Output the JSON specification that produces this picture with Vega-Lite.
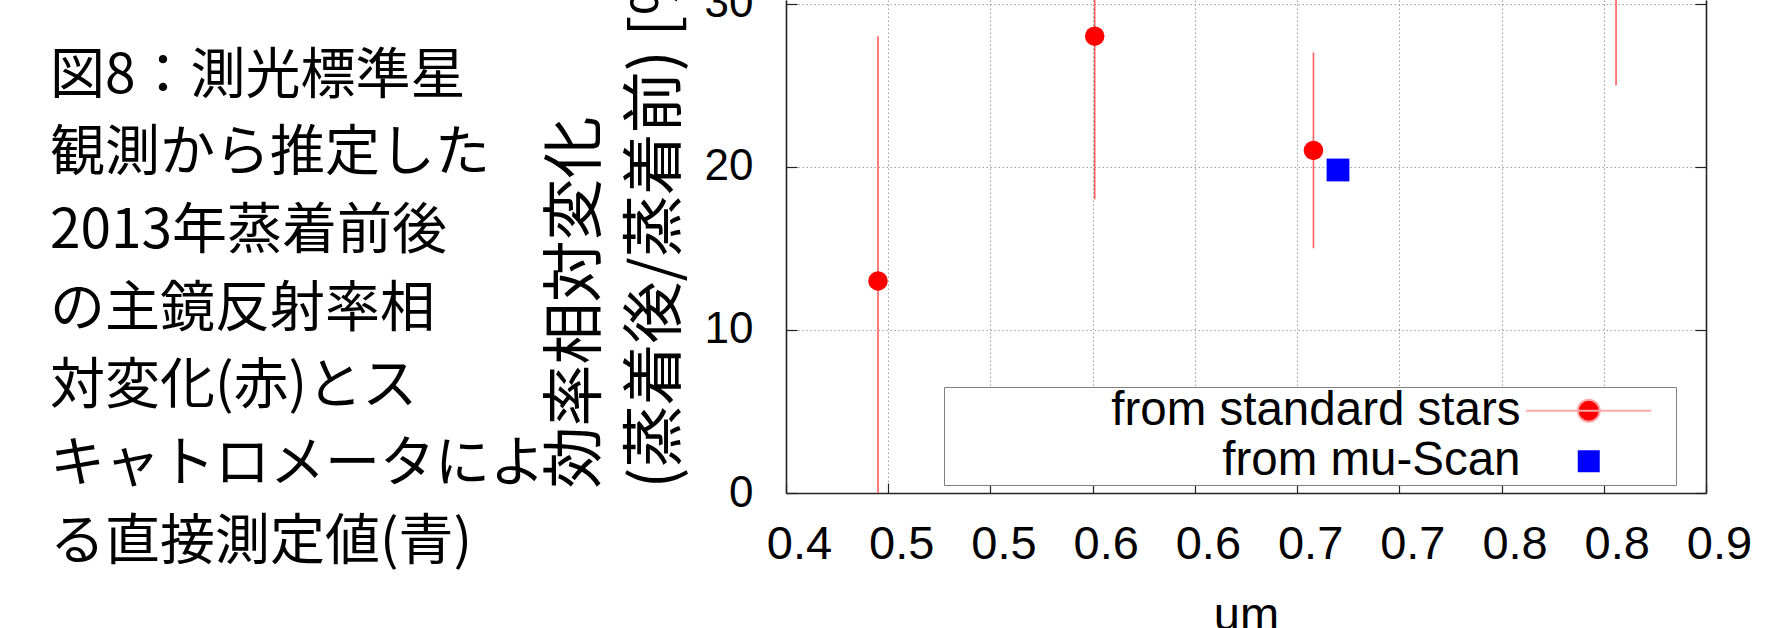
{
  "$schema": "https://vega.github.io/schema/vega-lite/v6.json",
  "width": 920,
  "height": 493,
  "autosize": {"type": "none"},
  "padding": {"left": 786, "top": 0, "right": 81, "bottom": 135},
  "background": "white",
  "config": {"view": {"stroke": null}, "font": "Liberation Sans"},
  "title": {
    "text": ["図8：測光標準星", "観測から推定した", "2013年蒸着前後", "の主鏡反射率相", "対変化(赤)とス", "キャトロメータによ", "る直接測定値(青)"],
    "anchor": "start",
    "frame": "group",
    "orient": "top",
    "font": "Noto Sans CJK JP",
    "fontSize": 55,
    "fontWeight": "normal",
    "color": "black",
    "lineHeight": 77.7,
    "baseline": "top",
    "dx": -736,
    "dy": 634,
    "offset": 0
  },
  "data": {
    "values": [
      {"um": 0.445, "val": 13, "lo": -2, "hi": 28, "series": "from standard stars"},
      {"um": 0.551, "val": 28, "lo": 18, "hi": 38, "series": "from standard stars"},
      {"um": 0.658, "val": 21, "lo": 15, "hi": 27, "series": "from standard stars"},
      {"um": 0.806, "val": 33, "lo": 25, "hi": 41, "series": "from standard stars"},
      {"um": 0.67, "val": 19.8, "series": "from mu-Scan"}
    ]
  },
  "resolve": {"scale": {"y": "independent"}},
  "layer": [
    {
      "transform": [{"filter": "isValid(datum.lo)"}],
      "mark": {"type": "rule", "clip": true, "color": "#ff5c5c", "strokeWidth": 1.6},
      "encoding": {
        "x": {
          "field": "um", "type": "quantitative",
          "scale": {"domain": [0.4, 0.85], "nice": false, "zero": false},
          "axis": {
            "orient": "bottom",
            "values": [0.4, 0.45, 0.5, 0.55, 0.6, 0.65, 0.7, 0.75, 0.8, 0.85],
            "labelExpr": "format(datum.value + 0.001, '.1f')",
            "labelFont": "Liberation Sans", "labelFontSize": 47, "labelColor": "black",
            "labelOffset": 13, "labelPadding": 75, "labelBaseline": "alphabetic",
            "labelFlush": false, "labelOverlap": false, "labelBound": false,
            "tickSize": -10, "tickColor": "#222222", "tickWidth": 1.2,
            "domainColor": "#222222", "domainWidth": 1.6,
            "grid": true, "gridColor": "#a0a0a0", "gridDash": [1.5, 2.5], "gridWidth": 1,
            "title": "um", "titleFont": "Liberation Sans", "titleFontSize": 47, "titleFontWeight": "normal",
            "titleColor": "black", "titleX": 460, "titleY": 136, "titleBaseline": "alphabetic", "titleAlign": "center"
          }
        },
        "y": {
          "field": "lo", "type": "quantitative",
          "scale": {"domain": [0, 30.22], "nice": false, "zero": false},
          "axis": {
            "orient": "left",
            "values": [0, 10, 20, 30],
            "labelFont": "Liberation Sans", "labelFontSize": 44, "labelColor": "black",
            "labelPadding": 44, "labelFlush": false, "labelOverlap": false, "labelBound": false,
            "tickSize": -11, "tickColor": "#222222", "tickWidth": 1.2,
            "domainColor": "#222222", "domainWidth": 1.6,
            "grid": true, "gridColor": "#a0a0a0", "gridDash": [1.5, 2.5], "gridWidth": 1,
            "title": ["効率相対変化", "(蒸着後/蒸着前) [%]"],
            "titleFont": "Noto Sans CJK JP", "titleFontSize": 62, "titleFontWeight": "normal",
            "titleColor": "black", "titleLineHeight": 80, "titleAngle": 270,
            "titleAlign": "left", "titleBaseline": "middle", "titleX": -210, "titleY": 488
          }
        },
        "y2": {"field": "hi"}
      }
    },
    {
      "transform": [{"filter": "datum.series === 'from standard stars'"}],
      "mark": {"type": "circle", "opacity": 1, "clip": true, "size": 380},
      "encoding": {
        "x": {"field": "um", "type": "quantitative"},
        "y": {
          "field": "val", "type": "quantitative",
          "scale": {"domain": [0, 30.22], "nice": false, "zero": false},
          "axis": {
            "orient": "right", "values": [0, 10, 20, 30], "labels": false, "grid": false,
            "tickSize": -11, "tickColor": "#222222", "tickWidth": 1.2,
            "domainColor": "#222222", "domainWidth": 1.6, "title": null
          }
        },
        "color": {
          "field": "series", "type": "nominal",
          "scale": {"domain": ["from standard stars", "from mu-Scan"], "range": ["#ff0000", "#0000ff"]},
          "legend": {
            "title": null, "orient": "none", "legendX": 158, "legendY": 387,
            "padding": 0, "rowPadding": 1.5,
            "strokeColor": "#808080", "fillColor": "white",
            "labelFont": "Liberation Sans", "labelFontSize": 47.5, "labelColor": "black",
            "labelAlign": "right", "labelOffset": -92, "labelLimit": 1000,
            "symbolSize": 484, "symbolOpacity": 1, "symbolOffset": 621,
            "encode": {
              "symbols": {
                "update": {
                  "shape": {"signal": "datum.value === 'from standard stars' ? 'M-5.7,0L5.7,0M1,0A1,1,0,1,1,-1,0A1,1,0,1,1,1,0ZM7.55,0' : 'square'"},
                  "stroke": {"signal": "datum.value === 'from standard stars' ? '#ffa8a8' : 'transparent'"},
                  "strokeWidth": {"value": 2}
                }
              }
            }
          }
        }
      }
    },
    {
      "transform": [{"filter": "datum.series === 'from mu-Scan'"}],
      "mark": {"type": "square", "opacity": 1, "clip": true, "size": 520},
      "encoding": {
        "x": {"field": "um", "type": "quantitative"},
        "y": {
          "field": "val", "type": "quantitative",
          "scale": {"domain": [0, 30.22], "nice": false, "zero": false},
          "axis": null
        },
        "color": {"field": "series", "type": "nominal"}
      }
    }
  ]
}
